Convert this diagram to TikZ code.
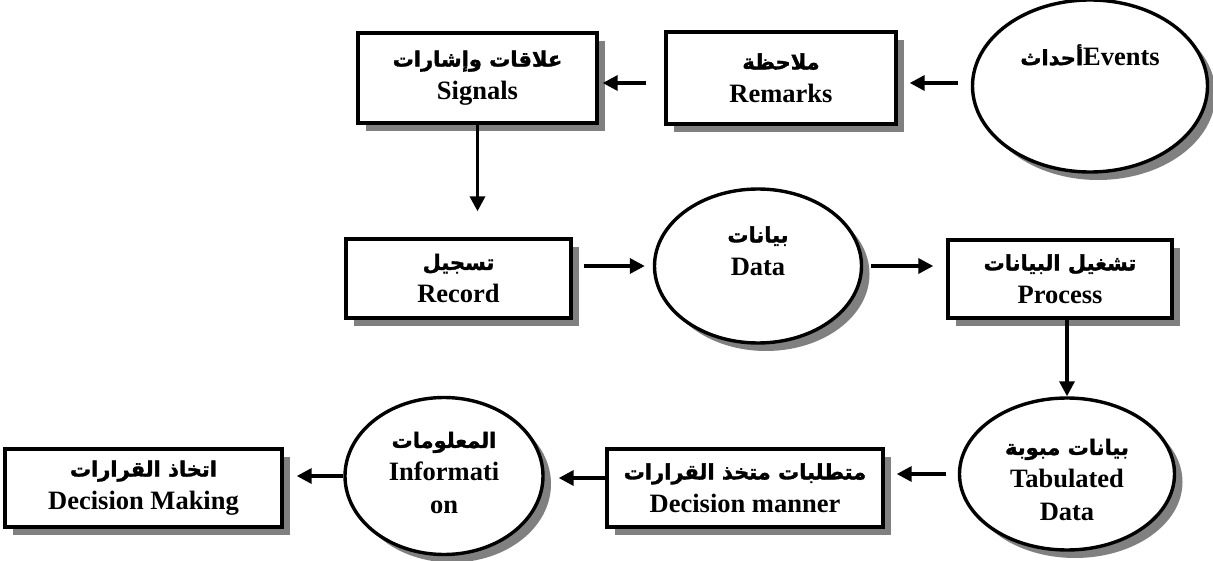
\documentclass[tikz,border=0pt]{standalone}
\usepackage{fontspec}
\setmainfont{Liberation Serif}
\newfontfamily\arfont[Script=Arabic,FakeBold=1.6]{DejaVu Sans}
\TeXXeTstate=1
\usetikzlibrary{shapes.geometric,shadows,arrows.meta}
% Arabic words, set right to left
\newcommand\artxt[1]{{\arfont\fontsize{21}{33}\selectfont\beginR #1\endR}}

\begin{document}
\begin{tikzpicture}[x=1pt,y=-1pt,
  boxshadow/.style={drop shadow={shadow xshift=8pt,shadow yshift=-8pt,fill=black!50,opacity=1}},
  stepbox/.style={draw,line width=3.4pt,fill=white,boxshadow,rectangle,inner sep=0pt,
    font=\bfseries\fontsize{26.5}{33}\selectfont,align=center},
  oval/.style={draw,line width=3.4pt,fill=white,boxshadow,ellipse,inner sep=0pt},
  lbl/.style={font=\bfseries\fontsize{26.5}{33}\selectfont,align=center,inner sep=0pt},
  arr/.style={line width=3.4pt,-{Triangle[length=15pt,width=15pt]}}]
\useasboundingbox (0,0) rectangle (1213,561);

% top row
\node[oval,minimum width=235pt,minimum height=172pt] (events) at (1090,86) {};
\node[lbl] (eventstxt) at (1090,55) {\artxt{أحداث}Events};
\node[stepbox,minimum width=230pt,minimum height=92pt] (remarks) at (781,78)
  {\artxt{ملاحظة}\\Remarks};
\node[stepbox,minimum width=239pt,minimum height=90pt] (signals) at (477.5,78)
  {\artxt{علاقات وإشارات}\\Signals};

% middle row
\node[stepbox,minimum width=225pt,minimum height=79pt] (record) at (458.5,278.5)
  {\artxt{تسجيل}\\Record};
\node[oval,minimum width=207pt,minimum height=154pt] (data) at (758,266) {};
\node[lbl] (datatxt) at (758,251) {\artxt{بيانات}\\Data};
\node[stepbox,minimum width=224pt,minimum height=78pt] (process) at (1060,279)
  {\artxt{تشغيل البيانات}\\Process};

% bottom row
\node[oval,minimum width=215pt,minimum height=152pt] (tab) at (1067,474) {};
\node[lbl] (tabtxt) at (1067,480) {\artxt{بيانات مبوبة}\\Tabulated\\Data};
\node[stepbox,minimum width=276pt,minimum height=78pt] (decman) at (745,488)
  {\artxt{متطلبات متخذ القرارات}\\Decision manner};
\node[oval,minimum width=198pt,minimum height=157pt] (info) at (444,476) {};
\node[lbl] (infotxt) at (444,473) {\artxt{المعلومات}\\Informati\\on};
\node[stepbox,minimum width=277pt,minimum height=78pt] (decmaking) at (143.5,488)
  {\artxt{اتخاذ القرارات}\\Decision Making};

% connectors
\draw[arr,shorten <=13pt,shorten >=12pt]
  ([yshift=-5pt]remarks.east -| events.west) -- ([yshift=-5pt]remarks.east);
\draw[arr,shorten <=18pt,shorten >=4pt]
  ([yshift=-5pt]remarks.west) -- ([yshift=-5pt]signals.east);
\draw[arr,shorten >=26pt] (signals.south) -- (signals.south |- record.north);
\draw[arr,shorten <=11pt,shorten >=8pt] (data.west -| record.east) -- (data.west);
\draw[arr,shorten <=8pt,shorten >=13pt] (data.east) -- (data.east -| process.west);
\draw[arr] (tab.north |- process.south) -- (tab.north);
\draw[arr,shorten <=12pt,shorten >=12pt] (tab.west) -- (tab.west -| decman.east);
\draw[arr,shorten >=14pt] ([yshift=10pt]decman.west) -- ([yshift=10pt]decman.west -| info.east);
\draw[arr,shorten >=13pt] (info.west) -- (info.west -| decmaking.east);
\end{tikzpicture}
\end{document}
